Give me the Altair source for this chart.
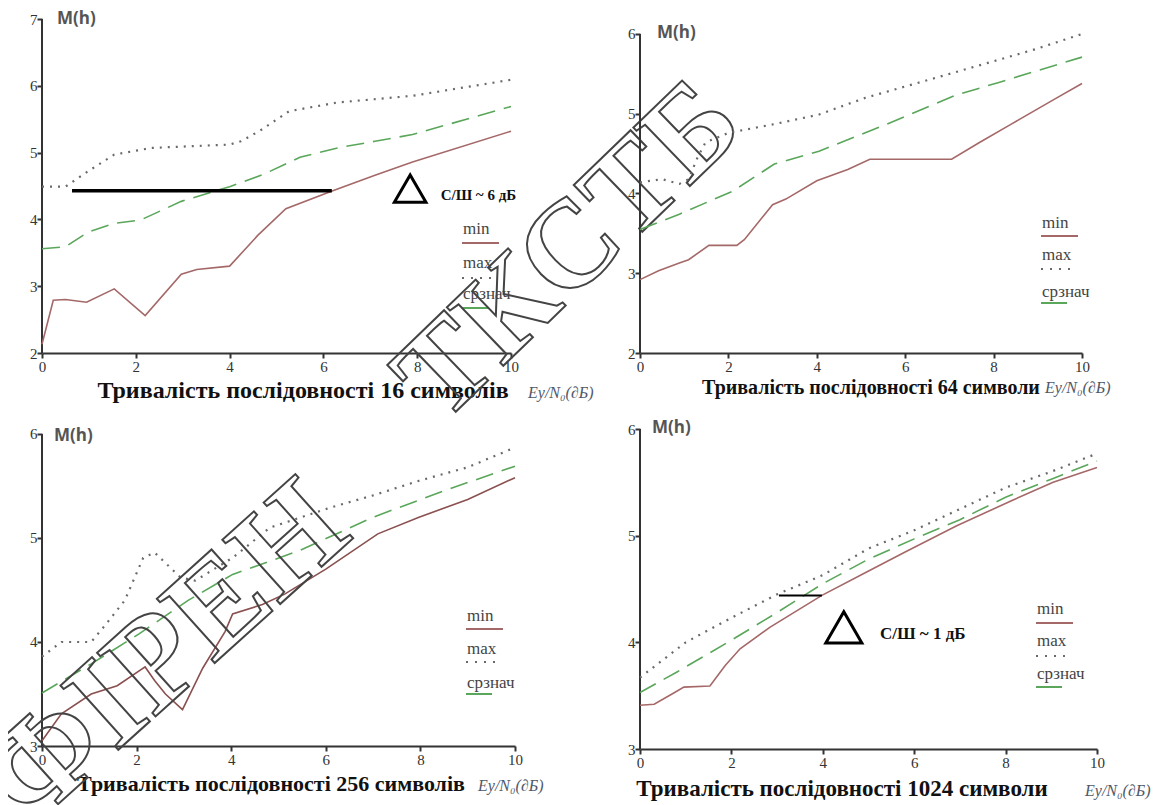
import altair as alt
import pandas as pd

# ---------------- data ----------------
# Panel 1: 16 symbols
p1_min_x = [0, 0.24, 0.5, 0.95, 1.54, 2.2, 2.97, 3.3, 4.0, 4.6, 5.2, 6.2, 7.1, 7.9, 10]
p1_min_y = [2.13, 2.79, 2.8, 2.76, 2.96, 2.56, 3.18, 3.25, 3.3, 3.76, 4.16, 4.43, 4.66, 4.86, 5.32]
p1_max_x = [0, 0.5, 0.98, 1.54, 1.94, 2.33, 4.0, 4.24, 4.63, 5.27, 6.3, 7.9, 10]
p1_max_y = [4.49, 4.49, 4.72, 4.97, 5.02, 5.07, 5.12, 5.17, 5.32, 5.62, 5.75, 5.85, 6.09]
p1_avg_x = [0, 0.5, 0.98, 1.54, 2.1, 2.97, 4.0, 4.71, 5.5, 6.3, 7.1, 7.9, 10]
p1_avg_y = [3.56, 3.59, 3.81, 3.94, 3.99, 4.27, 4.49, 4.67, 4.93, 5.07, 5.17, 5.27, 5.69]

# Panel 2: 64 symbols
p2_min_x = [0, 0.42, 0.89, 1.1, 1.56, 2.19, 2.36, 3.0, 3.3, 4.0, 4.7, 5.2, 7.05, 7.68, 8.4, 9.37, 10]
p2_min_y = [2.92, 3.03, 3.13, 3.17, 3.35, 3.35, 3.42, 3.86, 3.93, 4.16, 4.30, 4.43, 4.43, 4.64, 4.87, 5.18, 5.38]
p2_max_x = [0, 0.25, 0.5, 0.89, 1.1, 1.3, 1.48, 2.0, 3.04, 4.05, 5.1, 7.13, 8.95, 10]
p2_max_y = [4.14, 4.16, 4.18, 4.12, 4.18, 4.45, 4.64, 4.76, 4.87, 4.99, 5.2, 5.52, 5.81, 6.0]
p2_avg_x = [0, 0.89, 2.1, 3.04, 4.05, 5.5, 7.13, 8.1, 10]
p2_avg_y = [3.55, 3.74, 4.03, 4.37, 4.53, 4.85, 5.23, 5.39, 5.71]

# Panel 3: 256 symbols
p3_min_x = [0, 0.41, 1.04, 1.59, 2.18, 2.38, 2.61, 2.97, 3.4, 3.87, 4.03, 4.66, 5.13, 6.0, 7.1, 7.97, 9.0, 10]
p3_min_y = [3.05, 3.31, 3.5, 3.58, 3.76, 3.63, 3.5, 3.35, 3.75, 4.1, 4.27, 4.36, 4.46, 4.70, 5.04, 5.2, 5.37, 5.58]
p3_max_x = [0, 0.41, 1.04, 1.35, 1.75, 2.14, 2.38, 2.93, 3.24, 4.03, 4.82, 6.08, 7.0, 7.97, 9.0, 10]
p3_max_y = [3.86, 4.0, 4.0, 4.17, 4.4, 4.81, 4.86, 4.62, 4.59, 4.81, 5.1, 5.29, 5.41, 5.55, 5.68, 5.87]
p3_avg_x = [0, 1.04, 2.06, 3.09, 4.03, 5.45, 7.0, 8.6, 10]
p3_avg_y = [3.51, 3.79, 4.08, 4.4, 4.65, 4.88, 5.2, 5.47, 5.69]

# Panel 4: 1024 symbols
p4_min_x = [0, 0.31, 0.72, 0.96, 1.53, 1.86, 2.19, 2.84, 3.98, 4.96, 5.77, 6.92, 8.14, 9.04, 10]
p4_min_y = [3.41, 3.42, 3.52, 3.58, 3.59, 3.78, 3.94, 4.14, 4.44, 4.66, 4.84, 5.09, 5.33, 5.5, 5.64]
p4_max_x = [0, 1, 2, 3, 4, 5, 6, 7, 8, 9, 10]
p4_max_y = [3.67, 4.0, 4.23, 4.45, 4.63, 4.88, 5.05, 5.25, 5.45, 5.6, 5.77]
p4_avg_x = [0, 0.8, 2, 3, 4, 5, 6, 7, 8, 9, 10]
p4_avg_y = [3.53, 3.72, 4.02, 4.28, 4.55, 4.78, 4.97, 5.15, 5.36, 5.53, 5.70]

x_ticks = [0, 2, 4, 6, 8, 10]
legend_labels = ["min", "max", "срзнач"]
titles = ["Тривалість послідовності 16 символів",
          "Тривалість послідовності 64 символи",
          "Тривалість послідовності 256 символів",
          "Тривалість послідовності 1024 символи"]
x_label = "Eу/N₀(∂Б)"
y_label = "M(h)"

# ---------------- styling ----------------
SERIF = "Liberation Serif"
MIN_C, MAX_C, AVG_C = "#a56868", "#6a6a6a", "#5aa65a"
AX_C = "#333333"
ONE = pd.DataFrame({"k": [0]})


def txt(text, px, py, **kw):
    return alt.Chart(ONE).mark_text(text=text, **kw).encode(x=alt.value(px), y=alt.value(py))


def hline(px1, px2, py, **kw):
    return alt.Chart(ONE).mark_rule(**kw).encode(x=alt.value(px1), x2=alt.value(px2), y=alt.value(py))


def panel(c):
    xsc = alt.Scale(domain=[0, 10], nice=False, zero=False)
    ysc = alt.Scale(domain=c["ydom"], nice=False, zero=False)
    xax = alt.Axis(values=x_ticks, title=None, grid=False, labelFont=SERIF, labelFontSize=15,
                   labelColor=AX_C, domainColor=AX_C, domainWidth=2, tickColor=AX_C,
                   tickWidth=2, tickSize=5, labelPadding=1, labelFlush=False)
    yax = alt.Axis(values=c["yticks"], title=None, grid=False, domain=False, labelFont=SERIF,
                   labelFontSize=15, labelColor=AX_C, tickColor=AX_C, tickWidth=2, tickSize=5,
                   labelPadding=0, labelFlush=False)
    X = alt.X("x:Q", scale=xsc, axis=xax)
    Y = alt.Y("y:Q", scale=ysc, axis=yax)

    def series(xs, ys, **kw):
        return alt.Chart(pd.DataFrame({"x": xs, "y": ys})).mark_line(**kw).encode(x=X, y=Y)

    layers = []
    # y axis line (drawn up to the top tick)
    layers.append(alt.Chart(pd.DataFrame({"x": [0], "y": [c["yticks"][0]], "y2": [c["yticks"][-1]]}))
                  .mark_rule(color=AX_C, strokeWidth=2).encode(x=X, y=Y, y2="y2:Q"))
    layers.append(series(c["avg"][0], c["avg"][1], color=AVG_C, strokeWidth=1.6, strokeDash=[18, 9]))
    layers.append(series(c["max"][0], c["max"][1], color=MAX_C, strokeWidth=2.2, strokeDash=[2, 6]))
    layers.append(series(c["min"][0], c["min"][1], color=c.get("min_c", MIN_C), strokeWidth=1.6))

    if "delta" in c:
        d = c["delta"]
        layers.append(alt.Chart(pd.DataFrame({"x": [d["x1"]], "x2": [d["x2"]], "y": [d["y"]]}))
                      .mark_rule(color="black", strokeWidth=d["lw"]).encode(x=X, x2="x2:Q", y=Y))
        layers.append(alt.Chart(pd.DataFrame({"x": [d["tx"]], "y": [d["ty"]]}))
                      .mark_point(shape="triangle-up", filled=False, color="black",
                                  size=d["tsize"], strokeWidth=3, opacity=1).encode(x=X, y=Y))
        layers.append(alt.Chart(pd.DataFrame({"x": [d["lx"]], "y": [d["ly"]], "t": [d["text"]]}))
                      .mark_text(align="left", baseline="middle", font=SERIF, fontWeight="bold",
                                 fontSize=d["fs"], color="#111").encode(x=X, y=Y, text="t:N"))

    # legend (label above its line sample)
    lx = c["leg_x"]
    ly = c["leg_y"]
    lt = dict(align="left", baseline="middle", font=SERIF, fontSize=17, color="#444")
    layers.append(txt(legend_labels[0], lx + 1, ly[0], **lt))
    layers.append(hline(lx, lx + 37, ly[1], color=MIN_C, strokeWidth=2))
    layers.append(txt(legend_labels[1], lx + 1, ly[2], **lt))
    layers.append(hline(lx, lx + 32, ly[3], color=MAX_C, strokeWidth=2.2, strokeDash=[2, 7]))
    layers.append(txt(legend_labels[2], lx + 1, ly[4], **lt))
    layers.append(hline(lx, lx + 26, ly[5], color=AVG_C, strokeWidth=2))

    # axis captions
    layers.append(txt(y_label, c["mh"][0], c["mh"][1], align="left", baseline="middle",
                      font="Open Sans", fontWeight="bold", fontSize=17, color="#555"))
    layers.append(txt(c["title"], c["title_xy"][0], c["title_xy"][1], align="center", baseline="middle",
                      font=SERIF, fontWeight="bold", fontSize=c["title_fs"], color="#111"))
    layers.append(txt(x_label, c["xl_xy"][0], c["xl_xy"][1], align="left", baseline="middle",
                      font=SERIF, fontStyle="italic", fontSize=16, color="#505868"))

    if "wm" in c:
        t, px, py, ang, fs = c["wm"]
        layers.append(txt(t, px, py, align="center", baseline="middle", font=SERIF, fontWeight="bold",
                          fontSize=fs, angle=ang, fillOpacity=0, stroke="#444", strokeWidth=2))

    return alt.layer(*layers).properties(width=c["w"], height=c["h"])


cfgs = [
    dict(w=469, h=334, ydom=[2, 7], yticks=[2, 3, 4, 5, 6, 7],
         min=(p1_min_x, p1_min_y), max=(p1_max_x, p1_max_y), avg=(p1_avg_x, p1_avg_y),
         delta=dict(x1=0.64, x2=6.18, y=4.43, lw=3.5, tx=7.85, ty=4.46, tsize=1000,
                    lx=8.5, ly=4.37, text="С/Ш ~ 6 дБ", fs=15),
         leg_x=420, leg_y=(210, 224, 244, 259, 275, 289),
         mh=(15, 0), title=titles[0], title_xy=(261, 372), title_fs=24, xl_xy=(486, 374),
         wm=("ТКСТБ", 527, 232, 316, 124)),
    dict(w=442, h=334, ydom=[2, 6.188], yticks=[2, 3, 4, 5, 6],
         min=(p2_min_x, p2_min_y), max=(p2_max_x, p2_max_y), avg=(p2_avg_x, p2_avg_y),
         leg_x=401, leg_y=(204, 217, 236, 250, 273, 284),
         mh=(17, 14), title=titles[1], title_xy=(231, 369), title_fs=20, xl_xy=(405, 369)),
    dict(w=473, h=317, ydom=[3, 6.048], yticks=[3, 4, 5, 6],
         min=(p3_min_x, p3_min_y), max=(p3_max_x, p3_max_y), avg=(p3_avg_x, p3_avg_y),
         min_c="#8a5050",
         leg_x=424, leg_y=(187, 200, 220, 233, 254, 265),
         mh=(12, 7), title=titles[2], title_xy=(229, 355), title_fs=22, xl_xy=(436, 357),
         wm=("ФІРЕН", 124, 224, 318, 132)),
    dict(w=457, h=320, ydom=[3, 6], yticks=[3, 4, 5, 6],
         min=(p4_min_x, p4_min_y), max=(p4_max_x, p4_max_y), avg=(p4_avg_x, p4_avg_y),
         delta=dict(x1=3.04, x2=3.98, y=4.44, lw=2, tx=4.46, ty=4.14, tsize=1300,
                    lx=5.25, ly=4.08, text="С/Ш ~ 1 дБ", fs=17),
         leg_x=396, leg_y=(180, 194, 212, 227, 245, 258),
         mh=(12, -1), title=titles[3], title_xy=(202, 360), title_fs=23, xl_xy=(445, 362)),
]

panels = [panel(c) for c in cfgs]

chart = alt.concat(
    *panels, columns=2, spacing={"row": 76, "column": 125}, bounds="flush", align="none"
).properties(
    padding={"left": -49, "top": 1, "right": 0, "bottom": -30},
    background="white",
).configure_view(stroke="transparent")

chart.save("out.html", embed_options={"renderer": "svg", "actions": False})
